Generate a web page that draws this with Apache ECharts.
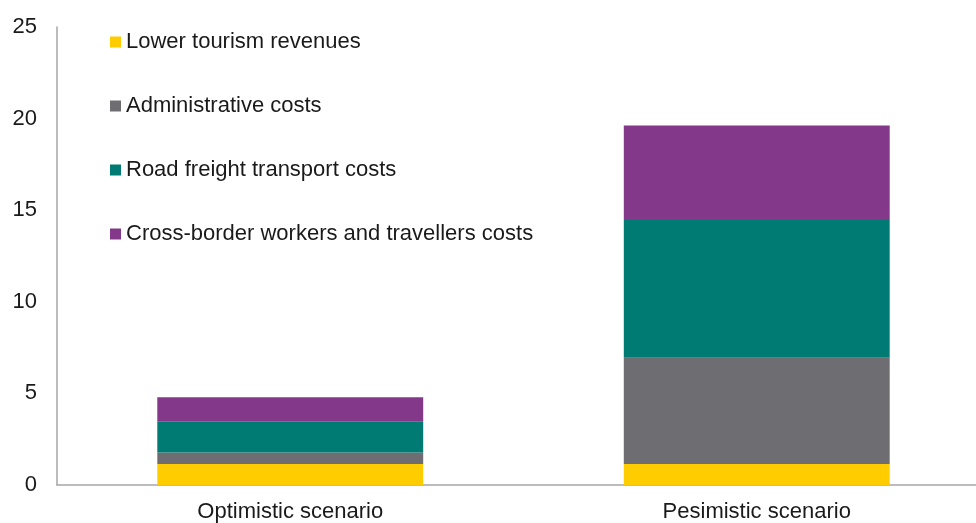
<!DOCTYPE html>
<html>
<head>
<meta charset="utf-8">
<title>Scenario costs</title>
<script src="https://cdn.jsdelivr.net/npm/echarts@6/dist/echarts.min.js"></script>
<style>
  html, body { margin: 0; padding: 0; background: #ffffff; }
  #chart { width: 976px; height: 523px; }
</style>
</head>
<body>
<div id="chart"></div>
<script>
// Scenario categories on the x axis
const categories = ['Optimistic scenario', 'Pesimistic scenario'];

// Stacked cost components per scenario
const tourismRevenues = [1.15, 1.15];
const administrativeCosts = [0.62, 5.80];
const roadFreightCosts = [1.68, 7.52];
const crossBorderCosts = [1.34, 5.15];

// Value axis ticks
const yTicks = [0, 5, 10, 15, 20, 25];

const seriesDefs = [
  { name: 'Lower tourism revenues', data: tourismRevenues, color: '#FFCC00' },
  { name: 'Administrative costs', data: administrativeCosts, color: '#6E6D72' },
  { name: 'Road freight transport costs', data: roadFreightCosts, color: '#007B73' },
  { name: 'Cross-border workers and travellers costs', data: crossBorderCosts, color: '#843889' }
];

const FONT = '"Liberation Sans", Arial, sans-serif';
const chart = echarts.init(document.getElementById('chart'), null, { renderer: 'canvas' });

// The plot area runs slightly past the right edge of the canvas
chart.setOption({
  animation: false,
  backgroundColor: '#ffffff',
  grid: {
    left: 57, width: 933, top: 27, bottom: 38,
    containLabel: false,
    outerBoundsMode: 'none'
  },
  legend: {
    orient: 'vertical',
    left: 110,
    top: 31,
    padding: 0,
    itemWidth: 11,
    itemHeight: 11,
    itemGap: 42,
    icon: 'rect',
    textStyle: { fontFamily: FONT, fontSize: 22, color: '#1a1a1a', lineHeight: 22 },
    data: seriesDefs.map(s => s.name)
  },
  xAxis: {
    type: 'category',
    data: categories,
    axisLine: { lineStyle: { color: '#a6a6a6', width: 1.5 } },
    axisTick: { show: false },
    axisLabel: { fontFamily: FONT, fontSize: 22, color: '#1a1a1a', margin: 16 }
  },
  yAxis: {
    type: 'value',
    min: yTicks[0],
    max: yTicks[yTicks.length - 1],
    interval: yTicks[1] - yTicks[0],
    axisLine: { show: true, lineStyle: { color: '#a6a6a6', width: 1.5 } },
    axisTick: { show: false },
    splitLine: { show: false },
    axisLabel: { fontFamily: FONT, fontSize: 22, color: '#1a1a1a', margin: 20 }
  },
  series: seriesDefs.map(s => ({
    name: s.name,
    type: 'bar',
    stack: 'total',
    barWidth: '57%',
    data: s.data,
    itemStyle: { color: s.color }
  }))
});
</script>
</body>
</html>
